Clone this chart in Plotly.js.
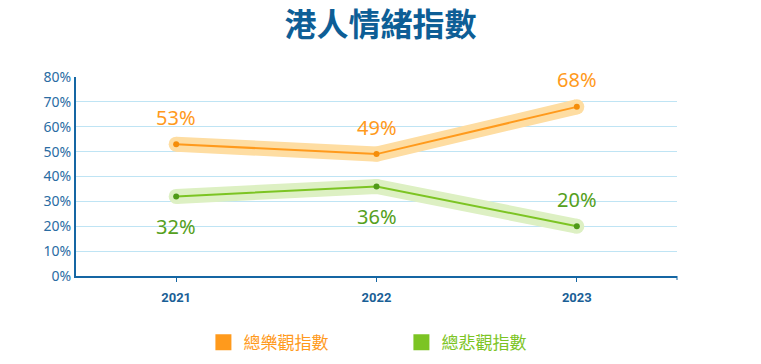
<!DOCTYPE html>
<html>
<head>
<meta charset="utf-8">
<script src="https://cdn.plot.ly/plotly-3.0.1.min.js"></script>
<style>html,body{margin:0;padding:0;background:#fff;}#chart{width:761px;height:364px;}</style>
</head>
<body>
<div id="chart"></div>
<script>
const years = ['2021', '2022', '2023'];
const optimism = [53, 49, 68];
const pessimism = [32, 36, 20];
const optName = '總樂觀指數';
const pesName = '總悲觀指數';
const yTicks = [0, 10, 20, 30, 40, 50, 60, 70, 80];
const yTickText = ['0%', '10%', '20%', '30%', '40%', '50%', '60%', '70%', '80%'];
const pesLabelAbove = [false, false, true];

const ORANGE = '#ff9a1c', ORANGE_BAND = '#fedda2', ORANGE_DOT = '#f58d0a';
const GREEN = '#7cc423', GREEN_BAND = '#ddf0c3', GREEN_DOT = '#4f9a18', GREEN_TEXT = '#55a020';
const BLUE = '#1566a3';

function band(y, c) {
  return {x: years, y: y, type: 'scatter', mode: 'lines+markers',
    line: {color: c, width: 15}, marker: {color: c, size: 15},
    showlegend: false, hoverinfo: 'skip'};
}
function main(y, c, d) {
  return {x: years, y: y, type: 'scatter', mode: 'lines+markers',
    line: {color: c, width: 2}, marker: {color: d, size: 6},
    showlegend: false};
}
function legendItem(name, c) {
  return {x: [null], y: [null], type: 'scatter', mode: 'markers',
    name: '<span style="color:' + c + '">' + name + '</span>',
    marker: {color: c, size: 16, symbol: 'square'}};
}

const data = [
  band(optimism, ORANGE_BAND), band(pessimism, GREEN_BAND),
  main(optimism, ORANGE, ORANGE_DOT), main(pessimism, GREEN, GREEN_DOT),
  legendItem(optName, ORANGE), legendItem(pesName, GREEN)
];

const annotations = [];
years.forEach((yr, i) => {
  annotations.push({xref: 'x', yref: 'y', x: i, y: optimism[i], text: optimism[i] + '%', showarrow: false,
    yshift: 27, font: {family: 'Noto Sans', size: 20, color: ORANGE}});
  annotations.push({xref: 'x', yref: 'y', x: i, y: pessimism[i], text: pessimism[i] + '%', showarrow: false,
    yshift: pesLabelAbove[i] ? 27 : -30, font: {family: 'Noto Sans', size: 20, color: GREEN_TEXT}});
});

const layout = {
  width: 761, height: 364,
  margin: {l: 76, r: 84, t: 77, b: 88, autoexpand: false},
  paper_bgcolor: '#ffffff', plot_bgcolor: '#ffffff',
  title: {text: '港人情緒指數', x: 0.5, xanchor: 'center', y: 0.932, yanchor: 'middle', yref: 'container',
    font: {family: 'Noto Sans CJK TC', size: 32, weight: 700, color: '#0d5e96'}},
  xaxis: {type: 'category', range: [-0.5, 2.5], showgrid: false, zeroline: false,
    showline: true, linecolor: BLUE, linewidth: 2,
    ticks: 'outside', ticklen: 4, tickcolor: BLUE, tickwidth: 1, ticklabelstandoff: 4,
    tickfont: {family: 'Roboto', size: 13, weight: 700, color: '#1a5f96'}},
  yaxis: {range: [0, 80], tickvals: yTicks, ticktext: yTickText, showgrid: true,
    gridcolor: '#bfe4f4', gridwidth: 1, zeroline: false, showline: true, linecolor: BLUE, linewidth: 2,
    ticks: '', tickfont: {family: 'Noto Sans', size: 14, color: '#2a6ca3'}},
  showlegend: true,
  legend: {orientation: 'h', x: 0.212, xanchor: 'left', y: -0.335, yanchor: 'middle',
    entrywidth: 153, entrywidthmode: 'pixels', itemclick: false,
    font: {family: 'Noto Sans CJK TC', size: 17}},
  annotations: annotations,
  shapes: [{type: 'line', xref: 'paper', yref: 'paper', x0: 1, x1: 1, y0: 0, y1: -0.02,
    line: {color: BLUE, width: 1}}]
};

Plotly.newPlot('chart', data, layout, {displayModeBar: false, staticPlot: true});
</script>
</body>
</html>
